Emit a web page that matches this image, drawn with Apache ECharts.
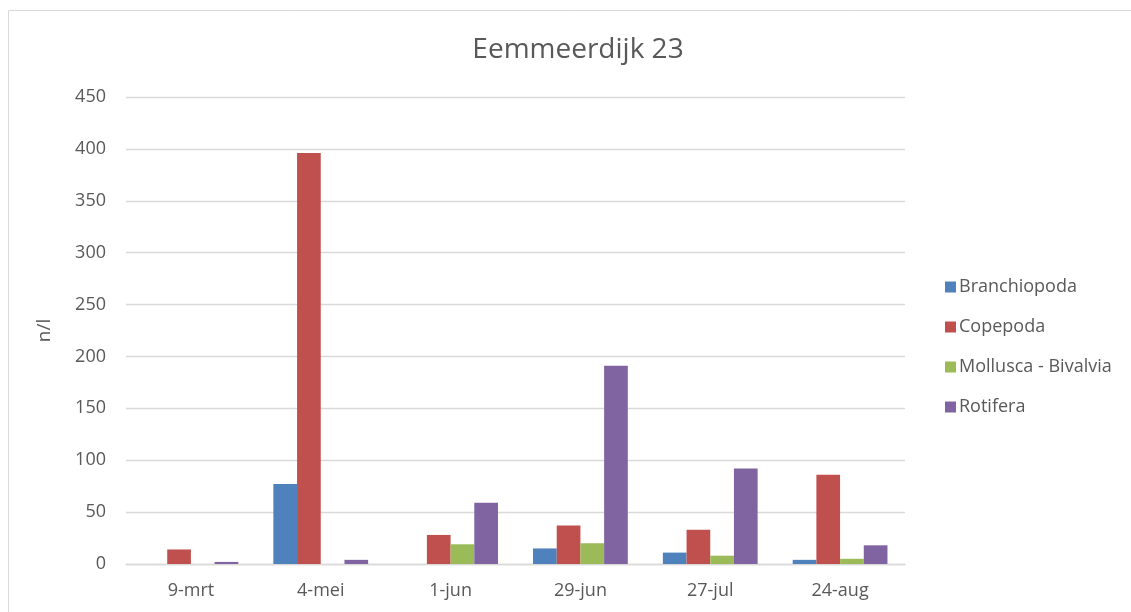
<!DOCTYPE html>
<html>
<head>
<meta charset="utf-8">
<script src="https://cdn.jsdelivr.net/npm/echarts@6/dist/echarts.min.js"></script>
<style>
  html, body { margin: 0; padding: 0; background: #fff; }
  #chart { width: 1131px; height: 612px; }
</style>
</head>
<body>
<div id="chart"></div>
<script>
// data
var categories = ['9-mrt', '4-mei', '1-jun', '29-jun', '27-jul', '24-aug'];
var seriesNames = ['Branchiopoda', 'Copepoda', 'Mollusca - Bivalvia', 'Rotifera'];
var branchiopoda = [0, 77, 0, 15, 11, 4];
var copepoda = [14, 396, 28, 37, 33, 86];
var mollusca = [0, 0, 19, 20, 8, 5];
var rotifera = [2, 4, 59, 191, 92, 18];
var colors = ['#4F81BD', '#C0504D', '#9BBB59', '#8064A2'];

var font = '"Open Sans", "Noto Sans", sans-serif';
var myChart = echarts.init(document.getElementById('chart'));

var values = [branchiopoda, copepoda, mollusca, rotifera];

myChart.setOption({
  animation: false,
  color: colors,
  textStyle: { fontFamily: font },
  title: {
    text: 'Eemmeerdijk 23',
    left: 573,
    textAlign: 'center',
    top: 31,
    textStyle: { fontFamily: font, fontSize: 28, fontWeight: 'normal', color: '#595959' }
  },
  graphic: [{
    type: 'rect',
    shape: { x: 8.5, y: 10.5, width: 1140, height: 620 },
    style: { fill: 'none', stroke: '#d9d9d9', lineWidth: 1 },
    silent: true,
    z: -1
  }],
  legend: {
    orient: 'vertical',
    left: 940,
    top: 273,
    itemWidth: 11,
    itemHeight: 11,
    itemGap: 22,
    icon: 'rect',
    textStyle: { fontFamily: font, fontSize: 18, color: '#595959', padding: [0, 0, 0, -2] },
    data: seriesNames
  },
  grid: {
    left: 126,
    right: 226,
    top: 97,
    bottom: 48
  },
  xAxis: {
    type: 'category',
    data: categories,
    axisTick: { show: false },
    axisLine: { show: true, lineStyle: { color: '#d9d9d9', width: 1.3 } },
    axisLabel: { fontFamily: font, fontSize: 18, color: '#595959', margin: 18 }
  },
  yAxis: {
    type: 'value',
    min: 0,
    max: 450,
    interval: 50,
    name: 'n/l',
    nameLocation: 'middle',
    nameGap: 72,
    nameTextStyle: { fontFamily: font, fontSize: 19, color: '#595959' },
    axisLine: { show: false },
    axisTick: { show: false },
    splitLine: { lineStyle: { color: '#d9d9d9', width: 1.3 } },
    axisLabel: { fontFamily: font, fontSize: 18, color: '#595959', margin: 20 }
  },
  series: seriesNames.map(function (name, i) {
    return {
      name: name,
      type: 'bar',
      barGap: '0%',
      barCategoryGap: '27%',
      data: values[i]
    };
  })
});
</script>
</body>
</html>
